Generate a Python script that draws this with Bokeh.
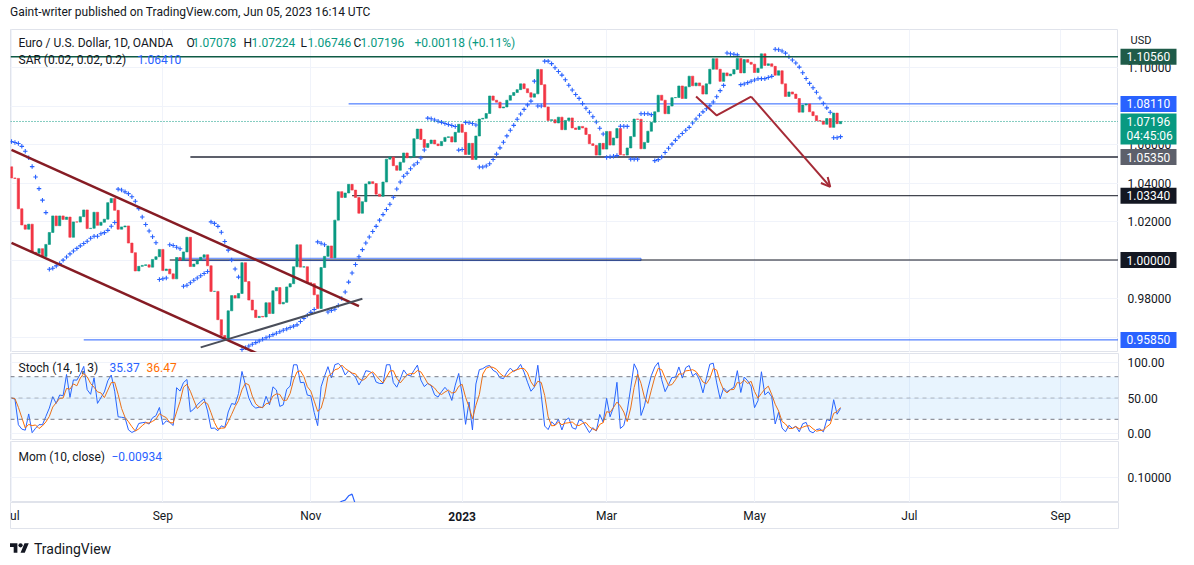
import numpy as np
import pandas as pd
from bokeh.plotting import figure
from bokeh.models import (Range1d, FixedTicker, PrintfTickFormatter, Span, BoxAnnotation,
                          Label, Arrow, OpenHead, Div, ColumnDataSource)
from bokeh.layouts import column, row
from bokeh.core.properties import value
from bokeh.embed import file_html
from bokeh.resources import INLINE

FONT = "Roboto"
GREEN, RED, BLUE, ORANGE, DARK = "#089981", "#f23645", "#2962ff", "#ff6d00", "#131722"

# ---------------- EUR/USD daily (OANDA) Jul 1 2022 .. Jun 5 2023 ----------------
first_open = 1.0484
close = [
    # Jul 2022
    1.0426, 1.0424, 1.0266, 1.0182, 1.0160, 1.0186, 1.0040, 1.0035, 1.0059, 1.0018, 1.0081,
    1.0143, 1.0229, 1.0178, 1.0229, 1.0211, 1.0223, 1.0118, 1.0198, 1.0197, 1.0225,
    # Aug
    1.0260, 1.0163, 1.0165, 1.0248, 1.0180, 1.0196, 1.0212, 1.0298, 1.0320, 1.0258, 1.0160,
    1.0172, 1.0177, 1.0088, 1.0038, 0.9943, 0.9967, 0.9972, 0.9975, 0.9963, 1.0003, 1.0017, 1.0055,
    # Sep
    0.9945, 0.9953, 0.9928, 0.9902, 1.0013, 0.9999, 1.0042, 1.0118, 0.9966, 0.9979, 0.9999,
    1.0014, 1.0027, 0.9970, 0.9837, 0.9837, 0.9690, 0.9608, 0.9593, 0.9736, 0.9815, 0.9802,
    # Oct
    0.9826, 0.9986, 0.9888, 0.9792, 0.9740, 0.9701, 0.9707, 0.9704, 0.9778, 0.9722, 0.9840,
    0.9857, 0.9772, 0.9780, 0.9860, 0.9877, 0.9965, 1.0079, 0.9963, 0.9965, 0.9882,
    # Nov
    0.9877, 0.9819, 0.9748, 0.9961, 1.0019, 1.0073, 1.0011, 1.0207, 1.0355, 1.0325, 1.0348,
    1.0393, 1.0363, 1.0325, 1.0243, 1.0303, 1.0395, 1.0407, 1.0397, 1.0342, 1.0331, 1.0405,
    # Dec
    1.0524, 1.0535, 1.0490, 1.0466, 1.0508, 1.0556, 1.0531, 1.0535, 1.0630, 1.0680, 1.0626,
    1.0585, 1.0605, 1.0623, 1.0603, 1.0594, 1.0616, 1.0637, 1.0640, 1.0613, 1.0663, 1.0705,
    # Jan 2023
    1.0663, 1.0548, 1.0606, 1.0522, 1.0644, 1.0732, 1.0736, 1.0761, 1.0852, 1.0830, 1.0820,
    1.0790, 1.0795, 1.0830, 1.0855, 1.0870, 1.0885, 1.0915, 1.0890, 1.0869, 1.0846, 1.0863,
    # Feb
    1.0990, 1.0911, 1.0795, 1.0725, 1.0729, 1.0712, 1.0742, 1.0677, 1.0725, 1.0738,
    1.0686, 1.0678, 1.0694, 1.0686, 1.0652, 1.0604, 1.0595, 1.0545, 1.0606, 1.0576,
    # Mar
    1.0668, 1.0597, 1.0634, 1.0683, 1.0547, 1.0545, 1.0582, 1.0641, 1.0732, 1.0731, 1.0578, 1.0611,
    1.0669, 1.0715, 1.0770, 1.0856, 1.0830, 1.0760, 1.0800, 1.0843, 1.0844, 1.0904, 1.0839,
    # Apr
    1.0900, 1.0955, 1.0905, 1.0920, 1.0905, 1.0862, 1.0915, 1.0991, 1.1046, 1.0991,
    1.0928, 1.0972, 1.0957, 1.0966, 1.0990, 1.1047, 1.0972, 1.1041, 1.1027, 1.1017,
    # May
    1.0974, 1.0996, 1.1071, 1.1011, 1.1019, 1.1006, 1.0960, 1.0983, 1.0915, 1.0850, 1.0873, 1.0862,
    1.0839, 1.0768, 1.0805, 1.0811, 1.0770, 1.0750, 1.0724, 1.0722, 1.0705, 1.0735, 1.0689,
    # Jun
    1.0763, 1.0708, 1.07196,
]
high = [
    1.0486, 1.0463, 1.0439, 1.0276, 1.0225, 1.0192, 1.0190, 1.0096, 1.0069, 1.0085, 1.0096,
    1.0200, 1.0269, 1.0234, 1.0278, 1.0257, 1.0258, 1.0248, 1.0210, 1.0234, 1.0254,
    1.0274, 1.0294, 1.0218, 1.0254, 1.0253, 1.0229, 1.0248, 1.0368, 1.0368, 1.0324, 1.0268,
    1.0200, 1.0202, 1.0202, 1.0095, 1.0049, 0.9999, 0.9999, 1.0029, 1.0090, 1.0028, 1.0054, 1.0079,
    1.0056, 1.0033, 0.9951, 0.9989, 1.0012, 1.0029, 1.0112, 1.0198, 1.0187, 1.0019, 1.0017,
    1.0037, 1.0030, 1.0051, 0.9976, 0.9907, 0.9852, 0.9710, 0.9671, 0.9748, 0.9839, 0.9854,
    0.9854, 0.9999, 0.9999, 0.9890, 0.9821, 0.9748, 0.9752, 0.9741, 0.9787, 0.9807, 0.9851,
    0.9875, 0.9868, 0.9845, 0.9871, 0.9902, 0.9976, 1.0094, 1.0089, 0.9986, 0.9978,
    0.9954, 0.9935, 0.9843, 0.9966, 1.0033, 1.0096, 1.0080, 1.0222, 1.0364, 1.0364, 1.0480,
    1.0447, 1.0405, 1.0387, 1.0328, 1.0313, 1.0407, 1.0449, 1.0430, 1.0497, 1.0387, 1.0429,
    1.0534, 1.0545, 1.0595, 1.0505, 1.0529, 1.0561, 1.0589, 1.0570, 1.0673, 1.0695, 1.0737,
    1.0633, 1.0640, 1.0657, 1.0636, 1.0659, 1.0638, 1.0640, 1.0671, 1.0660, 1.0677, 1.0714,
    1.0713, 1.0683, 1.0635, 1.0630, 1.0645, 1.0760, 1.0760, 1.0777, 1.0868, 1.0873, 1.0874,
    1.0848, 1.0887, 1.0844, 1.0858, 1.0927, 1.0888, 1.0915, 1.0929, 1.0902, 1.0913, 1.0874,
    1.0999, 1.1033, 1.0936, 1.0803, 1.0760, 1.0752, 1.0790, 1.0762, 1.0730, 1.0805,
    1.0741, 1.0731, 1.0710, 1.0705, 1.0701, 1.0670, 1.0626, 1.0605, 1.0623, 1.0645,
    1.0691, 1.0668, 1.0640, 1.0695, 1.0694, 1.0562, 1.0580, 1.0706, 1.0736, 1.0759, 1.0760, 1.0613,
    1.0679, 1.0722, 1.0787, 1.0856, 1.0930, 1.0832, 1.0805, 1.0845, 1.0852, 1.0926, 1.0925,
    1.0919, 1.0973, 1.0970, 1.0942, 1.0920, 1.0915, 1.0925, 1.0998, 1.1049, 1.1075,
    1.0990, 1.0980, 1.0980, 1.0974, 1.0990, 1.1047, 1.1067, 1.1095, 1.1047, 1.1047,
    1.1030, 1.1018, 1.1079, 1.1092, 1.1053, 1.1053, 1.1008, 1.0996, 1.0983, 1.0935, 1.0894, 1.0904,
    1.0874, 1.0847, 1.0831, 1.0832, 1.0821, 1.0803, 1.0764, 1.0742, 1.0747, 1.0747, 1.0736,
    1.0776, 1.0780, 1.07224,
]
low = [
    1.0366, 1.0405, 1.0235, 1.0162, 1.0144, 1.0072, 1.0035, 0.9999, 0.9998, 0.9952, 1.0006,
    1.0080, 1.0123, 1.0160, 1.0153, 1.0129, 1.0183, 1.0111, 1.0096, 1.0114, 1.0146,
    1.0197, 1.0160, 1.0123, 1.0145, 1.0142, 1.0157, 1.0183, 1.0202, 1.0274, 1.0234, 1.0151,
    1.0123, 1.0152, 1.0073, 1.0033, 0.9926, 0.9901, 0.9910, 0.9951, 0.9947, 0.9899, 0.9968, 0.9990,
    0.9910, 0.9940, 0.9877, 0.9864, 0.9875, 0.9930, 1.0006, 1.0052, 0.9955, 0.9954, 0.9956,
    0.9945, 0.9967, 0.9965, 0.9809, 0.9807, 0.9669, 0.9536, 0.9570, 0.9535, 0.9636, 0.9737,
    0.9751, 0.9809, 0.9836, 0.9787, 0.9731, 0.9670, 0.9667, 0.9668, 0.9632, 0.9704, 0.9723,
    0.9806, 0.9758, 0.9740, 0.9705, 0.9808, 0.9863, 0.9963, 0.9951, 0.9937, 0.9872,
    0.9851, 0.9814, 0.9730, 0.9747, 0.9896, 0.9992, 1.0002, 0.9935, 1.0186, 1.0272, 1.0283,
    1.0332, 1.0302, 1.0315, 1.0224, 1.0225, 1.0280, 1.0380, 1.0359, 1.0342, 1.0289, 1.0290,
    1.0390, 1.0445, 1.0485, 1.0443, 1.0451, 1.0498, 1.0515, 1.0505, 1.0530, 1.0612, 1.0624,
    1.0573, 1.0576, 1.0571, 1.0592, 1.0573, 1.0585, 1.0600, 1.0609, 1.0610, 1.0610, 1.0665,
    1.0650, 1.0520, 1.0540, 1.0512, 1.0483, 1.0640, 1.0713, 1.0724, 1.0739, 1.0780, 1.0800,
    1.0767, 1.0768, 1.0770, 1.0808, 1.0855, 1.0835, 1.0842, 1.0862, 1.0837, 1.0836, 1.0800,
    1.0845, 1.0906, 1.0795, 1.0707, 1.0669, 1.0680, 1.0707, 1.0658, 1.0655, 1.0700,
    1.0660, 1.0663, 1.0613, 1.0665, 1.0637, 1.0600, 1.0576, 1.0536, 1.0533, 1.0575,
    1.0577, 1.0577, 1.0587, 1.0628, 1.0547, 1.0524, 1.0530, 1.0524, 1.0653, 1.0695, 1.0516, 1.0551,
    1.0612, 1.0624, 1.0697, 1.0761, 1.0823, 1.0713, 1.0740, 1.0783, 1.0814, 1.0838, 1.0835,
    1.0788, 1.0883, 1.0888, 1.0877, 1.0878, 1.0831, 1.0860, 1.0905, 1.0985, 1.0970,
    1.0911, 1.0928, 1.0911, 1.0939, 1.0940, 1.0971, 1.0968, 1.0967, 1.0988, 1.0960,
    1.0965, 1.0942, 1.0988, 1.0984, 1.0968, 1.0987, 1.0943, 1.0935, 1.0900, 1.0844, 1.0854, 1.0845,
    1.0810, 1.0760, 1.0759, 1.0788, 1.0760, 1.0747, 1.0705, 1.0702, 1.0698, 1.0675, 1.0635,
    1.0665, 1.0703, 1.06746,
]
sar_start = 1.0615   # SAR level carried in from June 2022 (first dot at left edge)

# time-axis labels
month_starts = ["2022-07-01", "2022-09-01", "2022-11-01", "2023-01-02",
                "2023-03-01", "2023-05-01", "2023-07-03", "2023-09-01"]
month_labels = ["Jul", "Sep", "Nov", "2023", "Mar", "May", "Jul", "Sep"]

# price-scale tick labels
price_ticks = [0.96, 0.98, 1.00, 1.02, 1.04, 1.06, 1.08, 1.10]

# horizontal levels (drawings)
level_price = [1.0811, 1.0535, 1.0334, 1.0000, 0.9585]
level_start = ["2022-11-16", "2022-09-13", "2022-11-17", "2022-09-05", "2022-08-01"]
level_color = [BLUE, "#5d606b", DARK, DARK, BLUE]
level_width = [1, 2, 1, 1, 1]
resistance_top = 1.1056
zone = dict(start="2022-09-07", end="2023-03-15", bottom=0.9997, top=1.0009)

# price-scale tags
tag_price = [1.1056, 1.0811, 1.0535, 1.0334, 1.0000, 0.9585]
tag_text = ["1.10560", "1.08110", "1.05350", "1.03340", "1.00000", "0.95850"]
tag_color = ["#1f5b49", BLUE, "#5d606b", DARK, DARK, BLUE]
last_price_text = ["1.07196", "04:45:06"]

# trend lines (drawings)
chan_upper = (["2022-07-01", "2022-11-21"], [1.0572, 0.9760])
chan_lower = (["2022-07-01", "2022-10-11"], [1.0089, 0.9510])
support_line = (["2022-09-16", "2022-11-22"], [0.9546, 0.9799])
arrow_path = (["2023-04-06", "2023-04-14", "2023-04-28", "2023-05-31"], [1.0849, 1.0751, 1.0849, 1.0380])

# ---------------- derived series ----------------
dates = pd.bdate_range("2022-07-01", "2023-06-05")
axis_days = pd.bdate_range("2022-07-01", "2023-12-29")
def bar(d):
    return int(axis_days.get_loc(pd.Timestamp(d)))

n = len(dates)
xi = np.arange(n)
c = np.array(close)
o = np.r_[first_open, c[:-1]]
h = np.maximum.reduce([np.array(high), o, c])
l = np.minimum.reduce([np.array(low), o, c])

def parabolic_sar(h, l, sar0, ep0, start=0.02, inc=0.02, mx=0.2):
    out = np.empty(len(h))
    out[0] = sar0
    res, ep, af, below = sar0, ep0, start, False
    for i in range(1, len(h)):
        first = False
        res = res + af * (ep - res)
        if below:
            if res > l[i]:
                first, below = True, False
                res = max(h[i], ep); ep = l[i]; af = start
        else:
            if res < h[i]:
                first, below = True, True
                res = min(l[i], ep); ep = h[i]; af = start
        if not first:
            if below and h[i] > ep:
                ep = h[i]; af = min(af + inc, mx)
            elif (not below) and l[i] < ep:
                ep = l[i]; af = min(af + inc, mx)
        if below:
            res = min(res, l[i - 1])
            if i > 1:
                res = min(res, l[i - 2])
        else:
            res = max(res, h[i - 1])
            if i > 1:
                res = max(res, h[i - 2])
        out[i] = res
    return out

sar = parabolic_sar(h, l, sar_start, l[0])
sc = pd.Series(c)
hh = pd.Series(h).rolling(14, min_periods=1).max()
ll = pd.Series(l).rolling(14, min_periods=1).min()
k_line = 100 * (sc - ll) / (hh - ll)
d_line = k_line.rolling(3, min_periods=1).mean()
mom = sc - sc.shift(10)

month_ticks = [bar(d) for d in month_starts]

# ---------------- layout geometry ----------------
FL, FW, FR = 10, 1108, 67
W = FL + FW + FR
xr = Range1d(-0.29, 321.8)
GRID = "#f0f3fa"

def base_fig(width, height, yr, right_border, top=1, bottom=0, right_axis=True, x_range=xr, left=FL):
    f = figure(width=width, height=height, x_range=x_range, y_range=yr,
               x_axis_location=None, y_axis_location="right" if right_axis else None,
               toolbar_location=None, output_backend="svg",
               min_border_left=left, min_border_right=right_border, min_border_top=top,
               min_border_bottom=bottom)
    f.border_fill_color = "white"
    f.background_fill_color = "white"
    f.outline_line_color = "#e0e3eb"
    return f

def style_pane(f, ticks, fmt):
    f.xgrid.ticker = FixedTicker(ticks=month_ticks)
    f.xgrid.grid_line_color = GRID
    f.ygrid.grid_line_color = GRID
    ya = f.yaxis[0]
    ya.ticker = FixedTicker(ticks=ticks)
    ya.formatter = PrintfTickFormatter(format=fmt)
    ya.axis_line_color = None
    ya.major_tick_line_color = None
    ya.minor_tick_line_color = None
    ya.major_tick_out = 0
    ya.major_tick_in = 0
    ya.major_label_standoff = 9
    ya.major_label_text_font = FONT
    ya.major_label_text_font_size = "12px"
    ya.major_label_text_color = DARK

def page_label(fig, ftop, fh, px, py, text, color, size="12px", style="normal", align="left"):
    yr = fig.y_range
    x = xr.start + (px - FL) * (xr.end - xr.start) / FW
    y = yr.end - (py - ftop) / fh * (yr.end - yr.start)
    fig.add_layout(Label(x=x, y=y, text=text, text_color=color, text_font=FONT,
                         text_font_size=size, text_font_style=style, text_align=align,
                         text_baseline="middle"))

# ---------------- price pane ----------------
PT, PHF = 29, 323
pyr = Range1d(0.95195, 1.11974)
p = base_fig(FL + FW, 324, pyr, 0, right_axis=False)
p.xgrid.ticker = FixedTicker(ticks=month_ticks)
p.ygrid.ticker = FixedTicker(ticks=price_ticks)
p.xgrid.grid_line_color = GRID
p.ygrid.grid_line_color = GRID

p.add_layout(Span(location=resistance_top, dimension="width", line_color="#0f5a45", line_width=1.5))
p.quad(left=bar(zone["start"]), right=bar(zone["end"]), bottom=zone["bottom"], top=zone["top"],
       fill_color=BLUE, fill_alpha=0.06, line_color=BLUE, line_width=1, line_alpha=0.8)
p.segment(x0=[bar(d) for d in level_start], y0=level_price, x1=[xr.end] * len(level_price),
          y1=level_price, line_color=level_color, line_width=level_width)
p.add_layout(Span(location=close[-1], dimension="width", line_color=GREEN, line_dash="1 2", line_width=1))

src = ColumnDataSource(dict(x=xi, top=np.maximum(o, c), bottom=np.minimum(o, c),
                            color=[GREEN if cc >= oo else RED for oo, cc in zip(o, c)]))
p.vbar(x="x", width=0.66, top="top", bottom="bottom", fill_color="color", line_color="color",
       line_width=0.6, source=src)
p.scatter(xi, sar, marker="cross", size=4.5, line_color=BLUE, line_width=1.1)

for (ds, ps), col, lw in [(chan_upper, "#861c24", 2.5), (chan_lower, "#861c24", 2.5),
                          (support_line, "#4a4e5a", 2)]:
    p.line([bar(d) for d in ds], ps, line_color=col, line_width=lw)
ax = [bar(d) for d in arrow_path[0]]
p.line(ax[:3], arrow_path[1][:3], line_color="#a52a36", line_width=2)
p.add_layout(Arrow(end=OpenHead(size=9, line_color="#a52a36", line_width=2),
                   x_start=ax[2], y_start=arrow_path[1][2], x_end=ax[3], y_end=arrow_path[1][3],
                   line_color="#a52a36", line_width=2))

page_label(p, PT, PHF, 18, 42, "Euro / U.S. Dollar, 1D, OANDA", DARK)
for px, t, col in [(186, "O", DARK), (192, "1.07078", GREEN), (243, "H", DARK), (251, "1.07224", GREEN),
                   (300, "L", DARK), (307, "1.06746", GREEN), (353, "C", DARK), (360, "1.07196", GREEN),
                   (414, "+0.00118 (+0.11%)", GREEN)]:
    page_label(p, PT, PHF, px, 42, t, col)
page_label(p, PT, PHF, 18, 59, "SAR (0.02, 0.02, 0.2)", DARK)
page_label(p, PT, PHF, 137, 59, "1.06410", BLUE)

# ---------------- price scale (own strip so the tags can be drawn) ----------------
pa = figure(width=FR, height=324, x_range=Range1d(0, FR), y_range=pyr,
            x_axis_location=None, y_axis_location=None, toolbar_location=None,
            output_backend="svg", min_border_left=0, min_border_right=0,
            min_border_top=1, min_border_bottom=0)
pa.outline_line_color = None
pa.xgrid.visible = False
pa.ygrid.visible = False
px_price = (pyr.end - pyr.start) / PHF
pa.text(x=[9] * len(price_ticks), y=price_ticks, text=[f"{t:.5f}" for t in price_ticks],
        text_font=value(FONT), text_font_size="12px", text_color=DARK,
        text_align="left", text_baseline="middle")
pa.text(x=[12], y=[pyr.end - (40 - PT) * px_price], text=["USD"], text_font=value(FONT),
        text_font_size="11px", text_color=DARK, text_align="left", text_baseline="middle")
pa.rect(x=[30] * len(tag_price), y=tag_price, width=56, height=16, width_units="screen",
        height_units="screen", fill_color=tag_color, line_color=None)
pa.rect(x=[30], y=[close[-1] - 7.5 * px_price], width=56, height=31, width_units="screen",
        height_units="screen", fill_color=GREEN, line_color=None)
pa.text(x=[8] * len(tag_price), y=tag_price, text=tag_text, text_font=value(FONT),
        text_font_size="12px", text_color="white", text_align="left", text_baseline="middle")
pa.text(x=[8, 8], y=[close[-1], close[-1] - 15 * px_price], text=last_price_text,
        text_font=value(FONT), text_font_size="12px", text_color="white",
        text_align="left", text_baseline="middle")

# ---------------- stochastic pane ----------------
s = base_fig(W, 88, Range1d(-9.86, 112.68), FR)
style_pane(s, [0, 50, 100], "%.2f")
s.add_layout(BoxAnnotation(bottom=20, top=80, fill_color="#2196f3", fill_alpha=0.1, line_alpha=0))
for lv, al in [(80, 1.0), (50, 0.5), (20, 1.0)]:
    s.add_layout(Span(location=lv, dimension="width", line_color="#787b86", line_alpha=al,
                      line_dash="4 4", line_width=1))
s.line(xi, k_line.values, line_color=BLUE, line_width=1)
s.line(xi, d_line.values, line_color=ORANGE, line_width=1)
page_label(s, 353, 87, 18, 367, "Stoch (14, 1, 3)", DARK)
page_label(s, 353, 87, 109, 367, "35.37", BLUE)
page_label(s, 353, 87, 146, 367, "36.47", ORANGE)

# ---------------- momentum pane ----------------
m = base_fig(W, 62, Range1d(0.0414, 0.1872), FR)
style_pane(m, [0.1], "%.5f")
m.line(xi, mom.values, line_color=BLUE, line_width=1.2)
page_label(m, 441, 61, 18, 456, "Mom (10, close)", DARK)
page_label(m, 441, 61, 111, 456, "\u22120.00934", BLUE)

# ---------------- time axis ----------------
ta = base_fig(W, 27, Range1d(0, 1), FR, top=0, right_axis=False)
ta.xgrid.visible = False
ta.ygrid.visible = False
ta.text(x=month_ticks, y=[0.5] * len(month_ticks), text=month_labels,
        text_font=value(FONT), text_font_size="12px", text_color=DARK,
        text_font_style=["bold" if t == "2023" else "normal" for t in month_labels],
        text_align="center", text_baseline="middle")

# ---------------- header / footer ----------------
header = Div(text='<div style="font-family:Roboto;font-size:12px;color:#131722;line-height:24px;'
                  'padding-left:10px;white-space:nowrap">Gaint-writer published on TradingView.com, '
                  'Jun 05, 2023 16:14 UTC</div>', width=W, height=28, margin=(0, 0, 0, 0))
footer = Div(text='<div style="box-sizing:border-box;height:36px;padding-top:3px;padding-left:10px;'
                  'display:flex;align-items:center;gap:5px;font-family:Roboto;font-size:14px;color:#131722">'
                  '<svg width="19" height="15" viewBox="0 0 36 28"><path d="M14 22H7V11H0V4h14v18zM28 22h-8'
                  'l7.5-18h8L28 22z" fill="#131722"/><circle cx="20" cy="8" r="4" fill="#131722"/></svg>'
                  '<span>TradingView</span></div>', width=W, height=36, margin=(0, 0, 0, 0))

layout = column(header, row(p, pa, spacing=0), s, m, ta, footer, spacing=0)
open("out.html", "w").write(file_html(layout, INLINE))
